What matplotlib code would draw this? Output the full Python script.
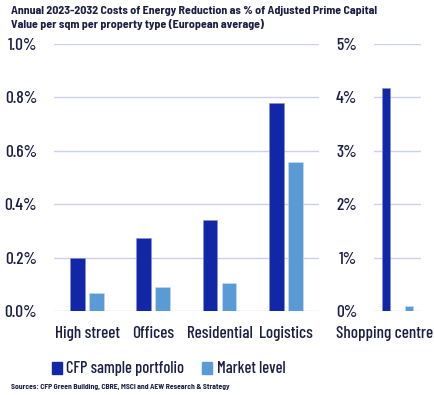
import numpy as np
import matplotlib
matplotlib.use('Agg')
import matplotlib.pyplot as plt
from matplotlib.patches import Rectangle
from matplotlib.ticker import FuncFormatter

# data (values in %)
categories = ['High street', 'Offices', 'Residential', 'Logistics']
cfp_values = [0.20, 0.273, 0.34, 0.78]
market_values = [0.067, 0.089, 0.104, 0.557]

shop_label = 'Shopping centre'
shop_cfp = 4.18
shop_market = 0.10

dark_blue = '#1226A8'
light_blue = '#5B9BD5'
grid_col = '#CDD1EF'
text_col = '#1B1E45'

plt.rcParams['font.family'] = ['Barlow Condensed', 'DejaVu Sans']
plt.rcParams['font.weight'] = 500
plt.rcParams['text.color'] = text_col

fig = plt.figure(figsize=(4.35, 3.95), dpi=100)

# main panel
ax = fig.add_axes([0.124, 0.2127, 0.609, 0.676])
x = np.arange(len(categories))
w = 0.225
ax.bar(x - 0.143, cfp_values, w, color=dark_blue, edgecolor='#8891D0', linewidth=0.4, zorder=3)
ax.bar(x + 0.143, market_values, w, color=light_blue, edgecolor='#C9DBF0', linewidth=0.4, zorder=3)
ax.set_xlim(-0.5, 3.5)
ax.set_ylim(0, 1.0)
ax.set_yticks(np.arange(0, 1.01, 0.2))
ax.yaxis.set_major_formatter(FuncFormatter(lambda v, p: f'{v:.1f}%'))
ax.set_xticks(x)
ax.set_xticklabels(categories)

# shopping centre panel
ax2 = fig.add_axes([0.86, 0.2127, 0.108, 0.676])
ax2.bar([-0.245], [shop_cfp], 0.17, color=dark_blue, edgecolor='#8891D0', linewidth=0.4, zorder=3)
ax2.bar([0.245], [shop_market], 0.17, color=light_blue, edgecolor='#C9DBF0', linewidth=0.4, zorder=3)
ax2.set_xlim(-0.5, 0.5)
ax2.set_ylim(0, 5)
ax2.set_yticks(np.arange(0, 5.1, 1))
ax2.yaxis.set_major_formatter(FuncFormatter(lambda v, p: f'{v:.0f}%'))
ax2.set_xticks([-0.27])
ax2.set_xticklabels([shop_label])

for a in (ax, ax2):
    for s in a.spines.values():
        s.set_visible(False)
    a.grid(axis='y', color=grid_col, linewidth=1.0, zorder=0)
    a.tick_params(length=0, labelsize=12.5, colors=text_col)
    a.tick_params(axis='y', pad=12)
    a.tick_params(axis='x', pad=11, labelsize=12.3)

fig.text(0.025, 0.985, 'Annual 2023-2032 Costs of Energy Reduction as % of Adjusted Prime Capital\n'
         'Value per sqm per property type (European average)',
         fontsize=8.6, fontweight='bold', va='top', ha='left', linespacing=1.3,
         family=['Barlow Semi Condensed', 'DejaVu Sans'])

# legend
fig.patches.append(Rectangle((0.1195, 0.053), 0.023, 0.030, transform=fig.transFigure,
                             color=dark_blue))
fig.text(0.152, 0.068, 'CFP sample portfolio', fontsize=11.8, va='center', ha='left')
fig.patches.append(Rectangle((0.4637, 0.053), 0.024, 0.030, transform=fig.transFigure,
                             color=light_blue))
fig.text(0.498, 0.068, 'Market level', fontsize=11.8, va='center', ha='left')

fig.text(0.025, 0.02, 'Sources: CFP Green Building, CBRE, MSCI and AEW Research & Strategy',
         fontsize=5.5, fontweight='bold', va='center', ha='left',
         family=['Barlow Semi Condensed', 'DejaVu Sans'])

fig.savefig('out.png', dpi=100)
